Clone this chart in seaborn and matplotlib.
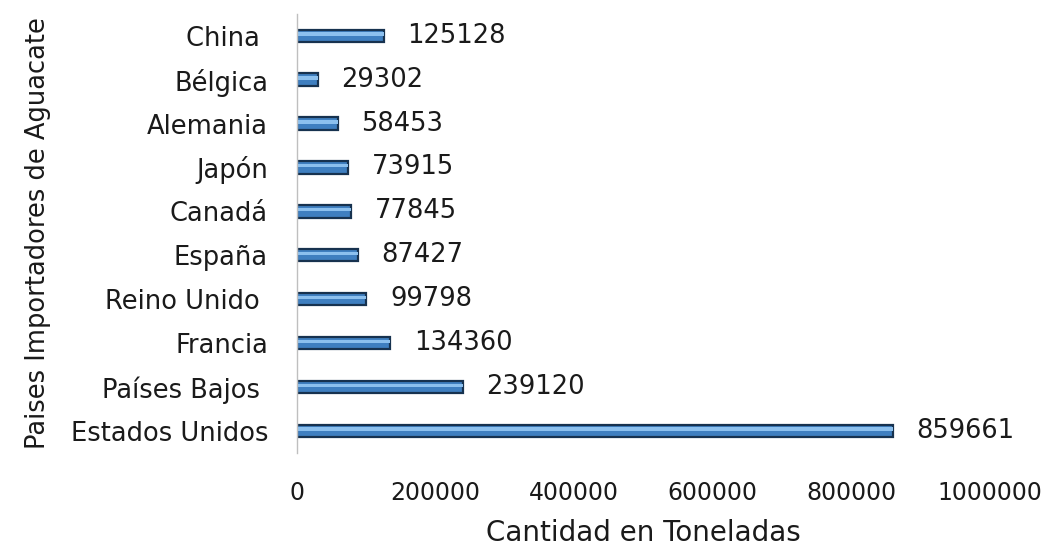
import matplotlib
matplotlib.use("Agg")
import matplotlib.pyplot as plt
import seaborn as sns
import pandas as pd

paises = ["China ", "Bélgica", "Alemania", "Japón", "Canadá", "España",
          "Reino Unido ", "Francia", "Países Bajos ", "Estados Unidos"]
toneladas = [125128, 29302, 58453, 73915, 77845, 87427,
             99798, 134360, 239120, 859661]
ticks_x = [0, 200000, 400000, 600000, 800000, 1000000]

df = pd.DataFrame({"pais": paises, "toneladas": toneladas})

sns.set_theme(style="white")
plt.rcParams["font.family"] = ["DejaVu Sans"]

fig = plt.figure(figsize=(10.54, 5.49), dpi=100)
ax = fig.add_axes([0.282, 0.175, 0.657, 0.80])

# base bar with dark outline, then a lighter highlight strip for a cylinder look
sns.barplot(data=df, x="toneladas", y="pais", orient="h", ax=ax,
            color="#3f7fc0", saturation=1, width=0.28,
            edgecolor="#17324f", linewidth=1.6)
sns.barplot(data=df, x="toneladas", y="pais", orient="h", ax=ax,
            color="#8cc0ee", saturation=1, width=0.08,
            edgecolor="none", linewidth=0)
for p in ax.patches[len(paises):]:
    p.set_y(p.get_y() - 0.04)

for i, v in enumerate(toneladas):
    ax.annotate(f"{v}", xy=(v, i), xytext=(17, 0), textcoords="offset points",
                va="center", ha="left", fontsize=18.5, color="#1a1a1a")

ax.set_xlim(0, 1000000)
ax.set_xticks(ticks_x)
ax.set_xticklabels([str(t) for t in ticks_x])
ax.tick_params(axis="both", length=0, labelsize=18.5, colors="#1a1a1a")
ax.tick_params(axis="x", pad=20, labelsize=17)
ax.tick_params(axis="y", pad=21)
ax.set_ylim(9.5, -0.5)

for s in ["top", "right", "bottom"]:
    ax.spines[s].set_visible(False)
ax.spines["left"].set_color("#bfbfbf")
ax.spines["left"].set_linewidth(1)

ax.set_xlabel("Cantidad en Toneladas", fontsize=20, color="#1a1a1a", labelpad=10)
ax.set_ylabel("Paises Importadores de Aguacate", fontsize=18.5, color="#1a1a1a", labelpad=14)

fig.savefig("out.png", dpi=100, facecolor="white")
